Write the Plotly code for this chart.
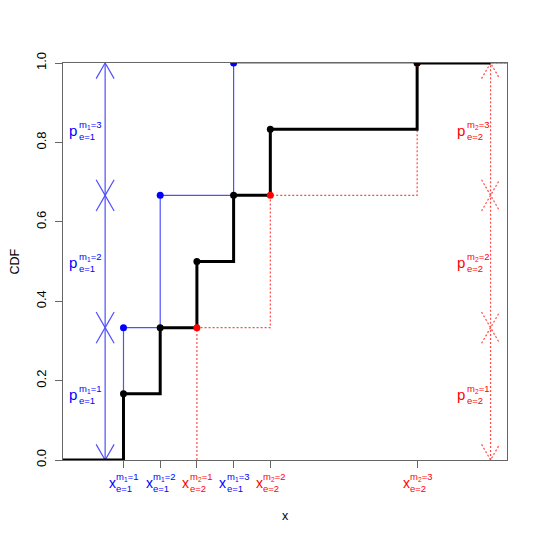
import plotly.graph_objects as go

# ---- data ----
m1_x = [1, 2, 4]
m1_cdf = [1/3, 2/3, 1.0]
m2_x = [3, 5, 9]
m2_cdf = [1/3, 2/3, 1.0]
all_x = [1, 2, 3, 4, 5, 9]
all_cdf = [1/6, 2/6, 3/6, 4/6, 5/6, 1.0]
p_breaks = [0.0, 1/3, 2/3, 1.0]
y_ticks = [0.0, 0.2, 0.4, 0.6, 0.8, 1.0]
x_tick_vals = [1, 2, 3, 4, 5, 9]
x_tick_m = ["m<sub>1</sub>=1", "m<sub>1</sub>=2", "m<sub>2</sub>=1",
            "m<sub>1</sub>=3", "m<sub>2</sub>=2", "m<sub>2</sub>=3"]
x_tick_e = ["e=1", "e=1", "e=2", "e=1", "e=2", "e=2"]
x_tick_col = ["blue", "blue", "red", "blue", "red", "red"]
p_m1_labels = ["m<sub>1</sub>=1", "m<sub>1</sub>=2", "m<sub>1</sub>=3"]
p_m2_labels = ["m<sub>2</sub>=1", "m<sub>2</sub>=2", "m<sub>2</sub>=3"]

X_RANGE = [-0.648, 11.448]
ARROW_X1 = 0.5
ARROW_X2 = 11
FONT = "Liberation Sans, Arial, Helvetica, sans-serif"
BLUE = "#0000ff"
RED = "#ff0000"
BLUE_LINE = "#4f4fff"
RED_LINE = "#ff4a4a"

# pixel -> data conversion for arrowheads
PW, PH = 444, 397
dx = 9 / PW * (X_RANGE[1] - X_RANGE[0])
dy = 15.6 / PH

fig = go.Figure()

def step(xs, ys, x_start, x_end):
    return [x_start] + list(xs) + [x_end], [0] + list(ys) + [ys[-1]]

# blue m1 step
bx, by = step(m1_x, m1_cdf, m1_x[0], X_RANGE[1])
fig.add_trace(go.Scatter(x=bx, y=by, mode="lines", line=dict(color=BLUE_LINE, width=1.2, shape="hv"),
                         hoverinfo="skip"))
# red m2 step (dotted)
rx, ry = step(m2_x, m2_cdf, m2_x[0], X_RANGE[1])
fig.add_trace(go.Scatter(x=rx, y=ry, mode="lines",
                         line=dict(color=RED_LINE, width=1.2, shape="hv", dash="2px,2px"),
                         hoverinfo="skip"))

# arrows
def arrow_trace(x0, color, dash):
    xs, ys = [], []
    for a, b in zip(p_breaks[:-1], p_breaks[1:]):
        xs += [x0, x0, None]
        ys += [a, b, None]
        xs += [x0 - dx, x0, x0 + dx, None]
        ys += [b - dy, b, b - dy, None]
        xs += [x0 - dx, x0, x0 + dx, None]
        ys += [a + dy, a, a + dy, None]
    return go.Scatter(x=xs, y=ys, mode="lines", line=dict(color=color, width=1.2, dash=dash),
                      hoverinfo="skip")

fig.add_trace(arrow_trace(ARROW_X1, BLUE_LINE, "solid"))
fig.add_trace(arrow_trace(ARROW_X2, RED_LINE, "2px,2px"))

# black combined step
kx, ky = step(all_x, all_cdf, X_RANGE[0], ARROW_X2)
fig.add_trace(go.Scatter(x=kx, y=ky, mode="lines", line=dict(color="black", width=3, shape="hv"),
                         hoverinfo="skip"))

# points
fig.add_trace(go.Scatter(x=m1_x, y=m1_cdf, mode="markers", marker=dict(color=BLUE, size=7),
                         hoverinfo="skip"))
fig.add_trace(go.Scatter(x=m2_x, y=m2_cdf, mode="markers", marker=dict(color=RED, size=7),
                         hoverinfo="skip"))
fig.add_trace(go.Scatter(x=all_x, y=all_cdf, mode="markers", marker=dict(color="black", size=7),
                         hoverinfo="skip"))

ann = []
# x tick labels
for xv, m, e, c in zip(x_tick_vals, x_tick_m, x_tick_e, x_tick_col):
    ann.append(dict(x=xv, y=0, xref="x", yref="y", text="x", showarrow=False,
                    xanchor="center", yanchor="middle", xshift=-11, yshift=-23,
                    font=dict(family=FONT, size=14, color=c)))
    ann.append(dict(x=xv, y=0, xref="x", yref="y", text=m + "<br>" + e, showarrow=False,
                    xanchor="left", yanchor="middle", align="left", xshift=-9, yshift=-22,
                    font=dict(family=FONT, size=9.5, color=c)))

# p labels
mids = [(a + b) / 2 for a, b in zip(p_breaks[:-1], p_breaks[1:])]
for yv, lab in zip(mids, p_m1_labels):
    ann.append(dict(x=ARROW_X1, y=yv, xref="x", yref="y", text="p", showarrow=False,
                    xanchor="center", yanchor="middle", xshift=-32, yshift=-1,
                    font=dict(family=FONT, size=15, color=BLUE)))
    ann.append(dict(x=ARROW_X1, y=yv, xref="x", yref="y", text=lab + "<br>e=1", showarrow=False,
                    xanchor="left", yanchor="middle", align="left", xshift=-28, yshift=-1,
                    font=dict(family=FONT, size=9.5, color=BLUE)))
for yv, lab in zip(mids, p_m2_labels):
    ann.append(dict(x=ARROW_X2, y=yv, xref="x", yref="y", text="p", showarrow=False,
                    xanchor="center", yanchor="middle", xshift=-30, yshift=-1,
                    font=dict(family=FONT, size=15, color=RED)))
    ann.append(dict(x=ARROW_X2, y=yv, xref="x", yref="y", text=lab + "<br>e=2", showarrow=False,
                    xanchor="left", yanchor="middle", align="left", xshift=-26, yshift=-1,
                    font=dict(family=FONT, size=9.5, color=RED)))

# axis titles
ann.append(dict(x=(14 - 63) / PW, y=0.5, xref="paper", yref="paper", text="CDF", showarrow=False,
                textangle=-90, xanchor="center", yanchor="middle",
                font=dict(family=FONT, size=12.5, color="black")))
ann.append(dict(x=0.5, y=(460 - 516) / PH, xref="paper", yref="paper", text="x", showarrow=False,
                xanchor="center", yanchor="middle",
                font=dict(family=FONT, size=12.5, color="black")))

# page has an 8px body margin, so the figure is offset by 8px; compensate in margins
fig.update_layout(
    width=539, height=539, autosize=False,
    margin=dict(l=55, r=40, t=55, b=87, pad=0),
    paper_bgcolor="white", plot_bgcolor="white",
    showlegend=False,
    annotations=ann,
    font=dict(family=FONT, size=13, color="black"),
    xaxis=dict(range=X_RANGE, showgrid=False, zeroline=False, showline=True, mirror=True,
               linecolor="#666", linewidth=1, ticks="outside", ticklen=7, tickcolor="#666",
               tickvals=x_tick_vals, ticktext=[""] * len(x_tick_vals)),
    yaxis=dict(range=[0, 1], showgrid=False, zeroline=False, showline=True, mirror=True,
               linecolor="#666", linewidth=1, ticks="outside", ticklen=7, tickcolor="#666",
               tickvals=y_ticks, ticktext=["%.1f" % v for v in y_ticks], tickangle=-90,
               tickfont=dict(family=FONT, size=13, color="black"), ticklabelstandoff=4),
)

fig.write_html("out.html")
